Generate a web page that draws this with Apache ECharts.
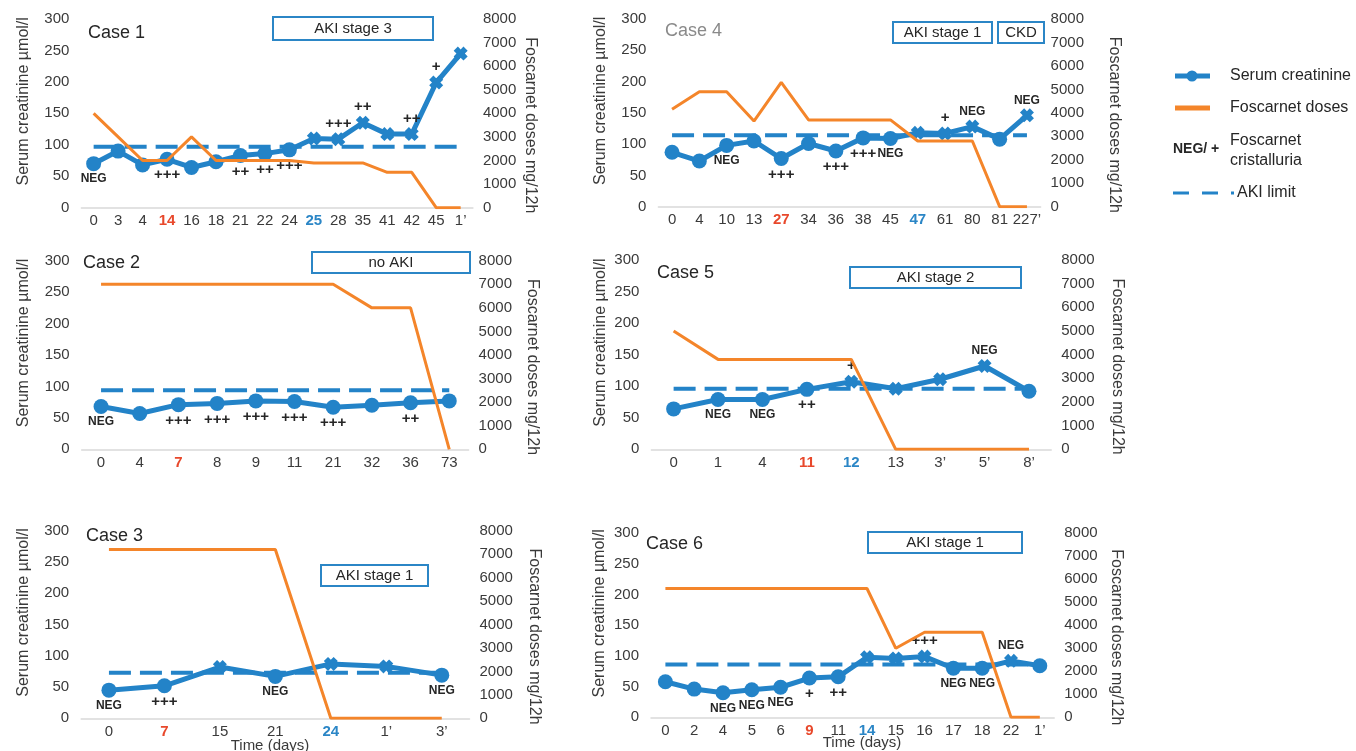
<!DOCTYPE html>
<html><head><meta charset="utf-8">
<script src="https://cdn.jsdelivr.net/npm/echarts@6/dist/echarts.min.js"></script>
<style>html,body{margin:0;padding:0;background:#fff}#c{width:1356px;height:751px}</style>
</head><body><div id="c"></div>
<script>
// ---------------- DATA ----------------
const case1Days  = ['0','3','4','14','16','18','21','22','24','25','28','35','41','42','45',"1\u2019"];
const case1Creat = [70,90,68,77,64,73,83,86,92,110,109,135,117,117,199,245];
const case1Fos   = [4000,3000,2000,2000,3000,2000,2000,2000,2000,1900,1900,1900,1500,1500,0,0];
const case1Crys  = ['NEG','','','+++','','','++','++','+++','','+++','++','','++','+',''];
const case1Aki   = 97;

const case4Days  = ['0','4','10','13','27','34','36','38','45','47','61','80','81',"227\u2019"];
const case4Creat = [87,73,98,105,77,101,89,110,109,118,117,128,108,146];
const case4Fos   = [4150,4900,4900,3650,5300,3700,3700,3700,3700,2800,2800,2800,0,0];
const case4Crys  = ['','','NEG','','+++','','+++','+++','NEG','','+','NEG','','NEG'];
const case4Aki   = 114;

const case2Days  = ['0','4','7','8','9','11','21','32','36','73'];
const case2Creat = [68,57,71,73,77,76,67,70,74,77];
const case2Fos   = [7000,7000,7000,7000,7000,7000,7000,6000,6000,0];
const case2Crys  = ['NEG','','+++','+++','+++','+++','+++','','++',''];
const case2Aki   = 94;

const case5Days  = ['0','1','4','11','12','13',"3\u2019","5\u2019","8\u2019"];
const case5Creat = [64,79,79,95,107,96,111,132,92];
const case5Fos   = [5000,3800,3800,3800,3800,0,0,0,0];
const case5Crys  = ['','NEG','NEG','++','+','','','NEG',''];
const case5Aki   = 96;

const case3Days  = ['0','7','15','21','24',"1\u2019","3\u2019"];
const case3Creat = [45,52,82,67,87,83,69];
const case3Fos   = [7200,7200,7200,7200,0,0,0];
const case3Crys  = ['NEG','+++','','NEG','','','NEG'];
const case3Aki   = 73;

const case6Days  = ['0','2','4','5','6','9','11','14','15','16','17','18','22',"1\u2019"];
const case6Creat = [58,46,40,45,49,64,66,98,96,99,80,80,92,84];
const case6Fos   = [5600,5600,5600,5600,5600,5600,5600,5600,3000,3700,3700,3700,0,0];
const case6Crys  = ['','','NEG','NEG','NEG','+','++','','','+++','NEG','NEG','NEG',''];
const case6Aki   = 86;

const creatTicks = [0,300,50];
const fosTicks   = [0,8000,1000];

// ---------------- STYLE / LAYOUT ----------------
const BLUE='#2383C8', ORANGE='#F4852A', TXT='#3A3A3A', RED='#E8482B', BBLUE='#2B86C6';
const FONT='Liberation Sans, Arial, sans-serif';
const CROSS='path://M0,3 L3,0 L5,2 L7,0 L10,3 L8,5 L10,7 L7,10 L5,8 L3,10 L0,7 L2,5 Z';

const panels = [
 {title:'Case 1', tcol:'#262626', tx:88, ty:35, days:case1Days, creat:case1Creat, fos:case1Fos, crys:case1Crys, aki:case1Aki,
  red:[3], blue:[9], above:[10,11,13,14], grid:{left:81.4, top:19, width:391.5, height:188.7}, lgap:50, rgap:50,
  boxes:[[273,17,160,23,'AKI stage 3']]},
 {title:'Case 4', tcol:'#8A8A8A', tx:665, ty:33, days:case4Days, creat:case4Creat, fos:case4Fos, crys:case4Crys, aki:case4Aki,
  red:[4], blue:[9], above:[10,11,13], grid:{left:658.4, top:19, width:382.2, height:187.7}, lgap:50, rgap:66,
  boxes:[[893,22,99,21,'AKI stage 1'],[998,22,46,21,'CKD']]},
 {title:'Case 2', tcol:'#262626', tx:83, ty:265, days:case2Days, creat:case2Creat, fos:case2Fos, crys:case2Crys, aki:case2Aki,
  red:[2], blue:[], above:[], grid:{left:81.7, top:260.7, width:386.9, height:188.6}, lgap:50, rgap:56,
  boxes:[[312,252,158,21,'no AKI']]},
 {title:'Case 5', tcol:'#262626', tx:657, ty:275, days:case5Days, creat:case5Creat, fos:case5Fos, crys:case5Crys, aki:case5Aki,
  red:[3], blue:[4], above:[4,7], grid:{left:651.4, top:260, width:399.8, height:189.3}, lgap:43, rgap:58,
  boxes:[[850,267,171,21,'AKI stage 2']]},
 {title:'Case 3', tcol:'#262626', tx:86, ty:538, days:case3Days, creat:case3Creat, fos:case3Fos, crys:case3Crys, aki:case3Aki,
  red:[1], blue:[4], above:[], grid:{left:81.2, top:530.7, width:388.3, height:187.6}, lgap:50, rgap:57,
  boxes:[[321,565,107,21,'AKI stage 1']]},
 {title:'Case 6', tcol:'#262626', tx:646, ty:546, days:case6Days, creat:case6Creat, fos:case6Fos, crys:case6Crys, aki:case6Aki,
  red:[5], blue:[7], above:[9,12], grid:{left:651, top:533.3, width:403.2, height:184}, lgap:43, rgap:54,
  boxes:[[868,532,154,21,'AKI stage 1']]}
];

const grid=[], xAxis=[], yAxis=[], series=[], graphic=[];
panels.forEach((p,i)=>{
  grid.push(Object.assign({containLabel:false}, p.grid));
  xAxis.push({type:'category', gridIndex:i, data:p.days, boundaryGap:true,
    axisLine:{lineStyle:{color:'#D9D9D9', width:1.5}}, axisTick:{show:false},
    axisLabel:{interval:0, margin:6, fontSize:15, color:TXT, fontFamily:FONT,
      formatter:(v,idx)=> p.red.includes(idx)?'{r|'+v+'}':(p.blue.includes(idx)?'{b|'+v+'}':v),
      rich:{r:{color:RED,fontWeight:'bold',fontSize:15,fontFamily:FONT}, b:{color:BBLUE,fontWeight:'bold',fontSize:15,fontFamily:FONT}}}});
  yAxis.push({type:'value', gridIndex:i, position:'left', min:creatTicks[0], max:creatTicks[1], interval:creatTicks[2],
    splitLine:{show:false}, axisLine:{show:false}, axisTick:{show:false},
    axisLabel:{fontSize:15, color:TXT, margin:12, fontFamily:FONT, formatter:v=>String(v)},
    name:'Serum creatinine \u00b5mol/l', nameLocation:'middle', nameRotate:90, nameGap:p.lgap,
    nameTextStyle:{fontSize:16, color:TXT, fontFamily:FONT, padding:[0,0,0,24]}});
  yAxis.push({type:'value', gridIndex:i, position:'right', min:fosTicks[0], max:fosTicks[1], interval:fosTicks[2],
    splitLine:{show:false}, axisLine:{show:false}, axisTick:{show:false},
    axisLabel:{fontSize:15, color:TXT, margin:10, fontFamily:FONT, formatter:v=>String(v)},
    name:'Foscarnet doses mg/12h', nameLocation:'middle', nameRotate:-90, nameGap:p.rgap,
    nameTextStyle:{fontSize:16, color:TXT, fontFamily:FONT, padding:[0,0,0,24]}});
  const n=p.days.length;
  series.push({type:'line', name:'AKI limit', xAxisIndex:i, yAxisIndex:2*i, z:2, silent:true,
    data:[[p.days[0],p.aki],[p.days[n-1],p.aki]], symbol:'none',
    lineStyle:{color:BLUE, width:4, type:[22,9], cap:'butt'}});
  series.push({type:'line', name:'Serum creatinine', xAxisIndex:i, yAxisIndex:2*i, z:3,
    lineStyle:{color:BLUE, width:5}, itemStyle:{color:BLUE},
    data:p.creat.map((v,k)=>{
      const t=p.crys[k];
      const cross = v>=p.aki;
      const isPlus = t && t[0]==='+';
      return {value:v, symbol: cross?CROSS:'circle', symbolSize: cross?14:15,
        label:{show:!!t, formatter:t, position:p.above.includes(k)?'top':'bottom', distance:isPlus?1:2,
          fontSize:isPlus?15:12, fontWeight:'bold', color:'#262626', fontFamily:FONT}};
    })});
  series.push({type:'line', name:'Foscarnet doses', xAxisIndex:i, yAxisIndex:2*i+1, z:4,
    data:p.fos, symbol:'none', lineStyle:{color:ORANGE, width:3}});
  graphic.push({type:'text', left:p.tx, top:p.ty-11, style:{text:p.title, fontSize:18, fill:p.tcol, fontFamily:FONT}});
  p.boxes.forEach(b=>{
    graphic.push({type:'rect', shape:{x:b[0],y:b[1],width:b[2],height:b[3]}, style:{fill:'#fff', stroke:BBLUE, lineWidth:2}, z:10});
    graphic.push({type:'text', x:b[0]+b[2]/2, y:b[1]+b[3]/2, z:11, style:{text:b[4], fontSize:15, fill:'#262626', fontFamily:FONT, align:'center', verticalAlign:'middle'}});
  });
});

// Time labels
graphic.push({type:'text', x:270, y:746, style:{text:'Time (days)', fontSize:15, fill:TXT, fontFamily:FONT, align:'center', verticalAlign:'middle'}});
graphic.push({type:'text', x:862, y:743, style:{text:'Time (days)', fontSize:15, fill:TXT, fontFamily:FONT, align:'center', verticalAlign:'middle'}});

// Legend
const LT={fontSize:16, fill:'#262626', fontFamily:FONT, verticalAlign:'middle'};
graphic.push({type:'line', shape:{x1:1175,y1:76,x2:1210,y2:76}, style:{stroke:BLUE, lineWidth:5}});
graphic.push({type:'circle', shape:{cx:1192,cy:76,r:5.5}, style:{fill:BLUE}});
graphic.push({type:'text', x:1230, y:76, style:Object.assign({text:'Serum creatinine'},LT)});
graphic.push({type:'line', shape:{x1:1175,y1:108,x2:1210,y2:108}, style:{stroke:ORANGE, lineWidth:5}});
graphic.push({type:'text', x:1230, y:108, style:Object.assign({text:'Foscarnet doses'},LT)});
graphic.push({type:'text', x:1173, y:149, style:{text:'NEG/ +', fontSize:14, fontWeight:'bold', fill:'#262626', fontFamily:FONT, verticalAlign:'middle'}});
graphic.push({type:'text', x:1230, y:141, style:Object.assign({text:'Foscarnet'},LT)});
graphic.push({type:'text', x:1230, y:161, style:Object.assign({text:'cristalluria'},LT)});
graphic.push({type:'line', shape:{x1:1173,y1:193,x2:1234,y2:193}, style:{stroke:BLUE, lineWidth:3, lineDash:[16,13]}});
graphic.push({type:'text', x:1237, y:193, style:Object.assign({text:'AKI limit'},LT)});

const chart = echarts.init(document.getElementById('c'), null, {renderer:'canvas'});
chart.setOption({animation:false, backgroundColor:'#fff', grid, xAxis, yAxis, series, graphic});
</script>
</body></html>
